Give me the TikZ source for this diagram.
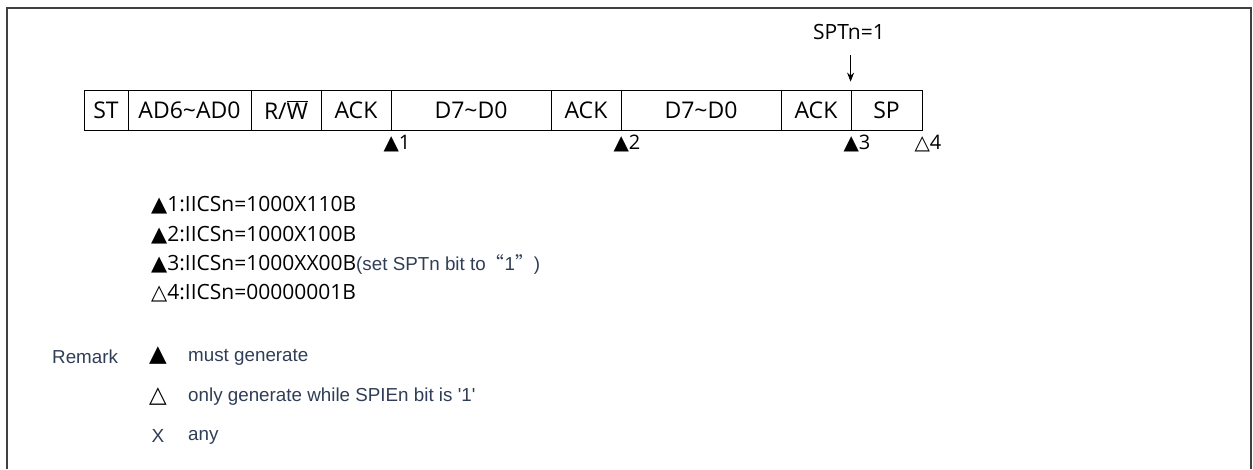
\documentclass[tikz,border=0pt]{standalone}
\usepackage{fontspec}
\setmainfont{Open Sans}
\newfontfamily\remfont{Liberation Sans}
\newfontfamily\symfont{DejaVu Sans}
\newfontfamily\cjk{Noto Sans CJK SC}
\usetikzlibrary{arrows.meta}
\definecolor{remblue}{RGB}{47,62,86}
\newcommand{\filltri}{{\symfont ▲}}
\newcommand{\opentri}{{\symfont △}}
\newcommand{\remsize}{\fontsize{18.8}{21}\selectfont}
\tikzset{
  field/.style={draw, line width=0.8pt, minimum height=40pt, inner sep=0pt,
    font=\fontsize{23}{26}\selectfont},
  mark lbl/.style={anchor=west, inner sep=0pt, font=\fontsize{20}{22}\selectfont},
  legend lbl/.style={anchor=west, inner sep=0pt, font=\fontsize{21}{24}\selectfont},
  rem lbl/.style={anchor=west, inner sep=0pt, text=remblue, font=\remfont\remsize}
}
\begin{document}
\begin{tikzpicture}[x=1pt,y=-1pt]
  \useasboundingbox (0,0) rectangle (1253,469);
  % frame
  \draw[black!75, line width=1.2pt] (7,469) -- (7,8) -- (1251,8) -- (1251,469);
  % frame fields
  \foreach \name/\xa/\xb/\lab in {
      st/84/128/ST,
      addr/128/251/{AD6\textasciitilde AD0},
      rw/251/321/{R/$\overline{\hbox{W}}$},
      ackA/321/391/ACK,
      dataA/391/551/{D7\textasciitilde D0},
      ackB/551/621/ACK,
      dataB/621/781/{D7\textasciitilde D0},
      ackC/781/851/ACK,
      sp/851/922/SP
    }{
      \node[field, minimum width={(\xb-\xa)*1pt}] (\name) at ({(\xa+\xb)/2},110) {\lab};
    }
  % stop request
  \node[inner sep=0pt, font=\fontsize{21}{24}\selectfont] (spt) at (849,32) {SPTn=1};
  \draw[-{Stealth[length=9pt,width=7pt]}, line width=0.8pt]
    ([yshift=-15pt]spt.south -| sp.west) -- ([yshift=8pt]sp.north west);
  % interrupt marks
  \foreach \name/\lab in {ackA/\filltri1, ackB/\filltri2, ackC/\filltri3, sp/\opentri4}{
    \node[mark lbl] (m-\name) at ([xshift=-8pt,yshift=-13pt]\name.south east) {\lab};
  }
  % register settings
  \node[legend lbl] (set1) at (151,205) {\filltri1:IICSn=1000X110B};
  \node[legend lbl] (set2) at (151,235) {\filltri2:IICSn=1000X100B};
  \node[legend lbl] (set3) at (151,264) {\filltri3:IICSn=1000XX00B{\remfont\remsize\color{remblue}(set SPTn bit to{\cjk “}1{\cjk ”})}};
  \node[legend lbl] (set4) at (151,293) {\opentri4:IICSn=00000001B};
  % remarks
  \node[rem lbl] (rem) at (52,357) {Remark};
  \node[anchor=center, inner sep=0pt, font=\symfont\fontsize{23}{26}\selectfont] (remA) at (158,356) {▲};
  \node[anchor=center, inner sep=0pt, font=\symfont\fontsize{23}{26}\selectfont] (remB) at (158,397) {△};
  \node[anchor=center, inner sep=0pt, text=remblue, font=\remfont\fontsize{19}{21}\selectfont] (remC) at (158,436) {X};
  \node[rem lbl] at (188,357) {must generate};
  \node[rem lbl] at (188,397) {only generate while SPIEn bit is '1'};
  \node[rem lbl] at (188,437) {any};
\end{tikzpicture}
\end{document}
